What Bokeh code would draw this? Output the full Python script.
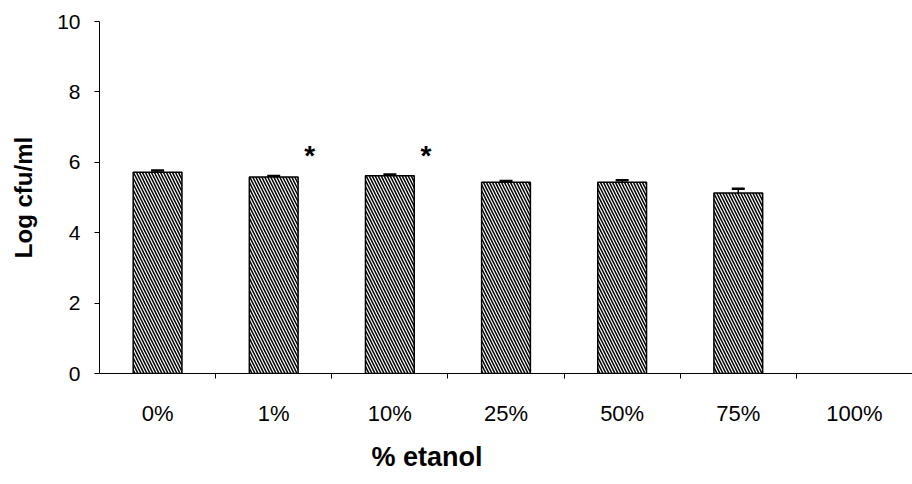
from bokeh.plotting import figure
from bokeh.models import Range1d, FixedTicker, Whisker, ColumnDataSource, Title
from bokeh.core.properties import value
from bokeh.embed import file_html
from bokeh.resources import INLINE

categories = ["0%", "1%", "10%", "25%", "50%", "75%", "100%"]
log_cfu = [5.72, 5.58, 5.62, 5.43, 5.43, 5.13, 0.0]
err = [0.05, 0.03, 0.03, 0.04, 0.06, 0.12, 0.0]
significant = ["1%", "10%"]
star_level = 6.2
x_title = "% etanol"
y_title = "Log cfu/ml"

xs = [i + 0.5 for i in range(len(categories))]
nz = [i for i, v in enumerate(log_cfu) if v > 0]
bar_src = ColumnDataSource(dict(
    x=[xs[i] for i in nz],
    top=[log_cfu[i] for i in nz],
    upper=[log_cfu[i] + err[i] for i in nz],
    lower=[log_cfu[i] - err[i] for i in nz],
))

p = figure(width=912, height=484, output_backend="svg", toolbar_location=None,
           x_range=Range1d(0, len(categories)), y_range=Range1d(0, 10))
p.min_border_left = 99
p.min_border_top = 21
p.min_border_bottom = 111
p.min_border_right = 0
p.outline_line_color = None
p.grid.grid_line_color = None
p.background_fill_color = "white"

p.vbar(x="x", top="top", bottom=0, width=0.42, source=bar_src,
       fill_color="white", line_color="black", line_width=1.5,
       hatch_pattern="\\", hatch_color="black", hatch_scale=6, hatch_weight=1.5)

w = Whisker(base="x", upper="upper", lower="lower", source=bar_src,
            line_color="black", line_width=1.5)
w.upper_head.size = 13
w.lower_head.size = 13
w.upper_head.line_width = 2.5
w.lower_head.line_width = 2.5
p.add_layout(w)

star_x = [categories.index(c) + 0.5 + 0.31 for c in significant]
p.text(x=star_x, y=[star_level] * len(star_x), text=["*"] * len(star_x),
       text_font=value("Liberation Sans"), text_font_size="28px",
       text_font_style="bold", text_align="center", text_baseline="middle",
       text_color="black")

font = "Liberation Sans"
xa = p.xaxis[0]
xa.ticker = FixedTicker(ticks=xs, minor_ticks=list(range(1, len(categories))))
xa.major_label_overrides = {x: c for x, c in zip(xs, categories)}
xa.major_tick_out = 0
xa.major_tick_in = 0
xa.minor_tick_out = 5
xa.minor_tick_in = 0
xa.major_label_standoff = 22
xa.major_label_text_font = font
xa.major_label_text_font_size = "22px"
xa.major_label_text_color = "black"
xa.axis_line_color = "black"
xa.axis_line_width = 1

p.add_layout(Title(text=x_title, align="left", offset=272, standoff=23,
                   text_font=font, text_font_size="27px",
                   text_font_style="bold", text_color="black"), "below")

ya = p.yaxis[0]
ya.ticker = FixedTicker(ticks=[0, 2, 4, 6, 8, 10])
ya.major_tick_out = 5
ya.major_tick_in = 0
ya.minor_tick_out = 0
ya.minor_tick_in = 0
ya.major_label_standoff = 14
ya.major_label_text_font = font
ya.major_label_text_font_size = "21px"
ya.major_label_text_color = "black"
ya.axis_label = y_title
ya.axis_label_text_font = font
ya.axis_label_text_font_size = "24px"
ya.axis_label_text_font_style = "bold"
ya.axis_label_text_color = "black"
ya.axis_label_standoff = 17
ya.axis_line_color = "black"
ya.axis_line_width = 1

open("out.html", "w").write(file_html(p, INLINE))
